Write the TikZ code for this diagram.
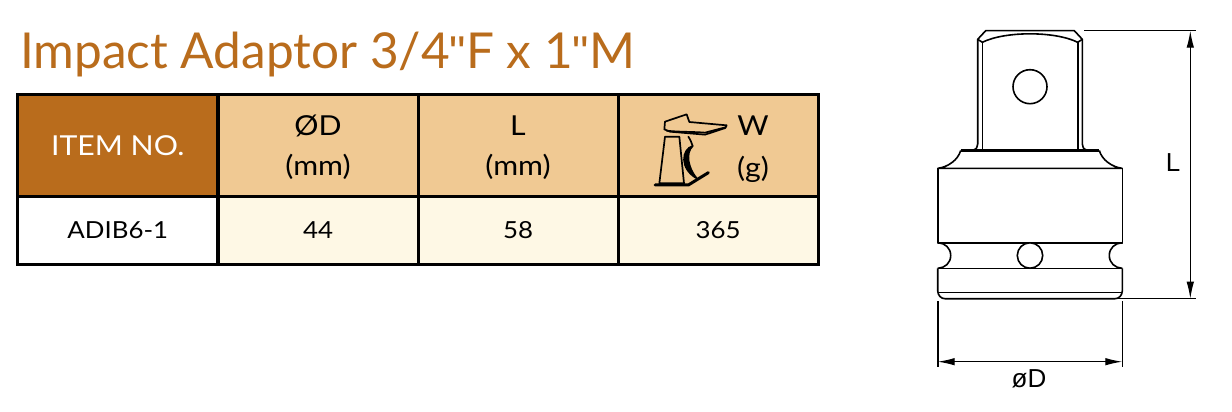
\documentclass[tikz,border=0pt]{standalone}
\usepackage{fontspec}
\setmainfont{Lato}
\newfontfamily\widefont[FakeStretch=1.1]{Lato}
\newfontfamily\arialfont{Liberation Sans}
\newcommand{\qmark}{{\arialfont\fontsize{46}{50}\selectfont"}}
\newcommand{\topgap}{\rule{0pt}{24pt}}
\usetikzlibrary{arrows.meta}
\definecolor{tdark}{HTML}{B96C1C}
\definecolor{thead}{HTML}{F0C993}
\definecolor{trow}{HTML}{FEF8E5}
\tikzset{
 cell/.style={draw=black,line width=3pt,minimum width=200pt,inner sep=0pt,align=center,text=black,font=\widefont\fontsize{27.5}{40}\selectfont},
 headcell/.style={cell,minimum height=101.5pt,fill=thead},
 bodycell/.style={cell,minimum height=68.5pt,fill=trow,font=\widefont\fontsize{23.5}{28}\selectfont},
 part/.style={line width=1.6pt,line join=round},
 dimline/.style={line width=1.2pt},
 dimtip/.style={{Latex[length=17pt,width=7.5pt]}-{Latex[length=17pt,width=7.5pt]}},
 dimlabel/.style={font=\arialfont\fontsize{26}{30}\selectfont,inner sep=0pt},
 icon/.style={line width=1.7pt,line join=round,line cap=round}
}
\begin{document}
\begin{tikzpicture}[x=1pt,y=-1pt]
\useasboundingbox (0,0) rectangle (1232,412);
\fill[white] (0,0) rectangle (1232,412);
\node[anchor=base west,inner sep=0pt,text=tdark,font=\fontsize{49.5}{60}\selectfont] (title) at (20,69) {Impact Adaptor 3/4\qmark F x 1\qmark M};
% table
\node[headcell,fill=tdark,text=white] (h1) at (117.75,145.25) {ITEM NO.};
\node[headcell] (h2) at (318,145.25) {\topgap ØD\\(mm)};
\node[headcell] (h3) at (518,145.25) {\topgap L\\(mm)};
\node[headcell] (h4) at (718,145.25) {};
\node[bodycell,fill=white] (b1) at (117.75,230.25) {ADIB6-1};
\node[bodycell] (b2) at (318,230.25) {44};
\node[bodycell] (b3) at (518,230.25) {58};
\node[bodycell] (b4) at (718,230.25) {365};
\node[inner sep=0pt,font=\widefont\fontsize{27.5}{36}\selectfont] (wlabel) at (753,126) {W};
\node[inner sep=0pt,font=\widefont\fontsize{27.5}{36}\selectfont] (glabel) at (753,169) {(g)};
% icon
\begin{scope}[shift={(620,90)},x=1/3*1pt,y=-1/3*1pt]
\draw[icon] (135,95) -- (200,73) -- (208,96) -- (320,106) -- (316,114) -- (255,134) -- (150,125) -- (133,118) -- cycle;
\draw[icon] (140,122) .. controls (170,126) and (220,125) .. (255,128) -- (316,112);
\draw[icon] (135,140) -- (178,140) -- (192,280) -- (118,280) -- cycle;
\draw[icon,line width=3pt] (105,285) -- (205,285) -- (265,248);
\draw[icon] (205,140) .. controls (212,150) and (215,160) .. (218,168);
\draw[icon,fill=black] (218,168) .. controls (185,178) and (178,235) .. (230,265) .. controls (205,235) and (195,190) .. (218,168);
\end{scope}
% drive square
\draw[part] (973.3,150) .. controls (976.5,149) and (977.7,147) .. (977.7,144) -- (977.7,39.3) -- (985.7,30.7) -- (1074.3,30.7) -- (1082.3,39.3) -- (1082.3,144) .. controls (1082.3,147) and (1083.5,149) .. (1086.7,150);
\draw[part] (977.7,39.3) -- (982.3,42.3) .. controls (1005,31) and (1055,31) .. (1077.7,42.3) -- (1082.3,39.3);
\draw[part] (982.3,42.3) -- (982.3,150);
\draw[part] (1077.7,42.3) -- (1077.7,150);
\node[circle,draw,line width=1.6pt,minimum size=34pt,inner sep=0pt] (hole) at (1030,86.7) {};
% collar
\draw[line width=3pt] (960.7,150.5) -- (1099.3,150.5);
\draw[part] (960.7,150.5) .. controls (958,160) and (948,167) .. (938,168.3) -- (1122,168.3) .. controls (1112,167) and (1102,160) .. (1099.3,150.5);
% body
\draw[part] (937.7,168.3) -- (937.7,242.7) -- (1122.3,242.7) -- (1122.3,168.3);
\draw[part] (937.7,242.7) .. controls (945,243) and (950.7,248) .. (950.7,255.5) .. controls (950.7,263) and (945,268) .. (937.7,268.3);
\draw[part] (1122.3,242.7) .. controls (1115,243) and (1109.3,248) .. (1109.3,255.5) .. controls (1109.3,263) and (1115,268) .. (1122.3,268.3);
\draw[part] (937.7,268.3) -- (1122.3,268.3);
\node[circle,draw,fill=white,line width=1.6pt,minimum size=25.4pt,inner sep=0pt] (ball) at (1030,255.5) {};
\draw[part] (937.7,268.3) -- (937.7,291) .. controls (938,295.5) and (941,298.7) .. (945,298.7) -- (1115,298.7) .. controls (1119,298.7) and (1122,295.5) .. (1122.3,291) -- (1122.3,268.3);
\draw[part] (937.7,292.3) -- (1122.3,292.3);
% dimensions
\coordinate (Ltop0) at (1084.3,30.7);
\coordinate (Ltop1) at (1196,30.7);
\coordinate (Lbot0) at (1115,298.7);
\coordinate (Lbot1) at (1196,298.7);
\coordinate (La) at (1190.3,30.7);
\coordinate (Lb) at (1190.3,298.7);
\coordinate (Dl0) at (937.7,301);
\coordinate (Dl1) at (937.7,366.7);
\coordinate (Dr0) at (1122.3,301);
\coordinate (Dr1) at (1122.3,366.7);
\coordinate (Da) at (937.7,361.7);
\coordinate (Db) at (1122.3,361.7);
\draw[dimline] (Ltop0) -- (Ltop1);
\draw[dimline] (Lbot0) -- (Lbot1);
\draw[dimline,dimtip] (La) -- (Lb);
\draw[part] (Dl0) -- (Dl1);
\draw[part] (Dr0) -- (Dr1);
\draw[dimline,dimtip] (Da) -- (Db);
\node[dimlabel] (Llabel) at (1173,163) {L};
\node[dimlabel] (Dlabel) at (1029,379) {øD};
\end{tikzpicture}
\end{document}
